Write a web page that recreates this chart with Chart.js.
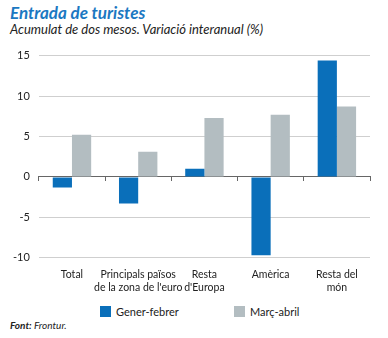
<!DOCTYPE html>
<html>
<head>
<meta charset="utf-8">
<script src="https://cdn.jsdelivr.net/npm/chart.js@4"></script>
<style>
  html, body { margin: 0; padding: 0; background: #fff; }
  body { width: 388px; height: 338px; position: relative; overflow: hidden; font-family: Lato, "Open Sans", sans-serif; }
  #title { position: absolute; left: 10px; top: 2px; font-size: 17px; font-weight: bold; font-style: italic; color: #1b78c2; }
  #subtitle { position: absolute; left: 10px; top: 21px; font-size: 13px; font-style: italic; color: #222; }
  #source { position: absolute; left: 10px; top: 319px; font-size: 10px; font-style: italic; color: #222; }
  #wrap { position: absolute; left: 0; top: 40px; width: 388px; height: 257px; }
  .leg { position: absolute; top: 305px; font-size: 11px; color: #222; line-height: 13px; }
  .leg span.box { display: inline-block; width: 11px; height: 11px; vertical-align: -1px; margin-right: 5px; }
</style>
</head>
<body>
<div id="title">Entrada de turistes</div>
<div id="subtitle">Acumulat de dos mesos. Variació interanual (%)</div>
<div id="wrap"><canvas id="c"></canvas></div>
<div class="leg" id="leg0" style="left:100px;"><span class="box" id="box0"></span><span id="lab0"></span></div>
<div class="leg" id="leg1" style="left:234px;"><span class="box" id="box1"></span><span id="lab1"></span></div>
<div id="source"><b>Font:</b> Frontur.</div>
<script>
const categories = [["Total"], ["Principals països", "de la zona de l'euro"], ["Resta", "d'Europa"], ["Amèrica"], ["Resta del", "món"]];
const seriesNames = ["Gener-febrer", "Març-abril"];
const generFebrer = [-1.3, -3.3, 1.0, -9.7, 14.4];
const marcAbril = [5.2, 3.1, 7.3, 7.7, 8.7];
const yTicks = [-10, -5, 0, 5, 10, 15];

const blue = "#0a6fba";
const grey = "#b3bdc1";
const colors = [blue, grey];
const fontFam = "Lato, 'Open Sans', sans-serif";

const chart = new Chart(document.getElementById("c"), {
  type: "bar",
  data: {
    labels: categories,
    datasets: [
      { label: seriesNames[0], data: generFebrer, backgroundColor: blue, borderWidth: 0, categoryPercentage: 0.58, barPercentage: 1.0, xAxisID: "x" },
      { label: seriesNames[1], data: marcAbril, backgroundColor: grey, borderWidth: 0, categoryPercentage: 0.58, barPercentage: 1.0, xAxisID: "x" }
    ]
  },
  options: {
    responsive: true,
    maintainAspectRatio: false,
    animation: false,
    layout: { padding: { left: 4, right: 18, top: 8, bottom: 0 } },
    plugins: {
      legend: { display: false },
      tooltip: { enabled: false }
    },
    scales: {
      x: {
        grid: { display: false },
        border: { display: false },
        ticks: { color: "#222", font: { family: fontFam, size: 10.5 }, padding: 3, maxRotation: 0, autoSkip: false }
      },
      x2: {
        position: { y: 0 },
        type: "category",
        labels: categories,
        offset: true,
        grid: { display: true, drawOnChartArea: false, offset: true, tickLength: 4, color: "#666" },
        border: { display: true, color: "#666", width: 1 },
        ticks: { display: false }
      },
      y: {
        min: yTicks[0], max: yTicks[yTicks.length - 1],
        afterBuildTicks: (s) => { s.ticks = yTicks.map(v => ({ value: v })); },
        grid: { color: "#cfcfcf", drawTicks: false },
        border: { display: false },
        ticks: { color: "#222", padding: 9, font: { family: fontFam, size: 11 } }
      }
    }
  }
});

seriesNames.forEach((n, i) => {
  document.getElementById("lab" + i).textContent = n;
  document.getElementById("box" + i).style.background = colors[i];
});
</script>
</body>
</html>
